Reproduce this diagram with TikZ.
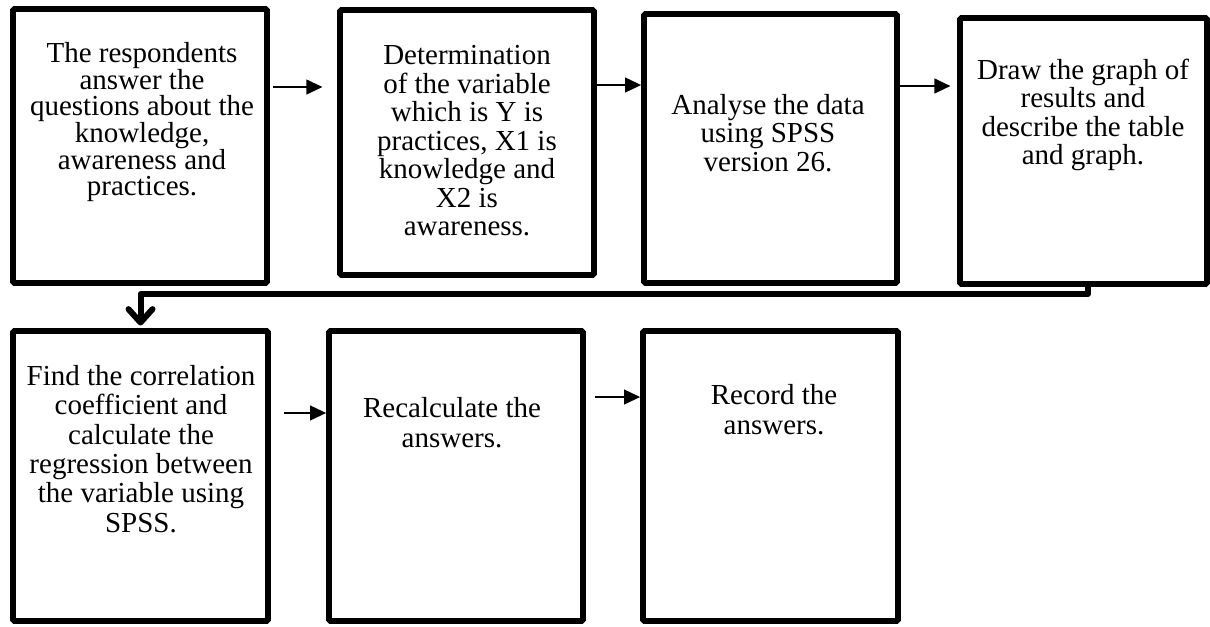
\documentclass[tikz,border=0pt]{standalone}
\usepackage{fontspec}
\setmainfont{Liberation Serif}
\usetikzlibrary{arrows.meta,calc}

\begin{document}
\begin{tikzpicture}[x=0.75pt,y=-0.75pt,
  stepbox/.style={draw=black, line width=4.3pt, rounded corners=1pt, rectangle, inner sep=0pt, fill=white},
  steptext/.style={align=center, inner sep=0pt, anchor=north,
    font=\fontsize{21.75pt}{#1}\selectfont},
  thinarrow/.style={line width=1.5pt, -{Triangle[length=12pt,width=11pt]}},
  loopline/.style={line width=4.5pt, line join=round,
    -{Straight Barb[length=10pt,width=18pt,round]}}
]
\useasboundingbox (0,0) rectangle (1210,626);

% upper row
\node[stepbox, minimum width=190.5pt, minimum height=205.5pt] (b1) at (140,146) {};
\node[stepbox, minimum width=190.5pt, minimum height=198.75pt] (b2) at (467,142.5) {};
\node[stepbox, minimum width=189.75pt, minimum height=201.75pt] (b3) at (770.5,148.5) {};
\node[stepbox, minimum width=185.25pt, minimum height=199.5pt] (b4) at (1083.5,151) {};

% lower row
\node[stepbox, minimum width=191.25pt, minimum height=217.5pt] (b5) at (140.5,476) {};
\node[stepbox, minimum width=190.5pt, minimum height=217.5pt] (b6) at (456,476) {};
\node[stepbox, minimum width=191.25pt, minimum height=217.5pt] (b7) at (770.5,476) {};

% box texts
\node[steptext=20pt] (t1) at (142,42) {The respondents\\answer the\\questions about the\\knowledge,\\awareness and\\practices.};
\node[steptext=21.4pt] (t2) at (467,45) {Determination\\of the variable\\which is Y is\\practices, X1 is\\knowledge and\\X2 is\\awareness.};
\node[steptext=21.4pt] (t3) at (768,94) {Analyse the data\\using SPSS\\version 26.};
\node[steptext=21.2pt] (t4) at (1083,59) {Draw the graph of\\results and\\describe the table\\and graph.};
\node[steptext=22pt] (t5) at (141,365) {Find the correlation\\coefficient and\\calculate the\\regression between\\the variable using\\SPSS.};
\node[steptext=22.5pt] (t6) at (452,397) {Recalculate the\\answers.};
\node[steptext=22.5pt] (t7) at (774,384) {Record the\\answers.};

% arrows between neighbouring steps
\draw[thinarrow, shorten <=2pt, shorten >=11pt] (b1.east |- 0,87) -- (b2.west |- 0,87);
\draw[thinarrow] (b2.east |- 0,85) -- (b3.west |- 0,85);
\draw[thinarrow, shorten >=5pt] (b3.east |- 0,86) -- (b4.west |- 0,86);
\draw[thinarrow, shorten <=10pt] (b5.east |- 0,413) -- (b6.west |- 0,413);
\draw[thinarrow, shorten <=7pt] (b6.east |- 0,397) -- (b7.west |- 0,397);

% return line from the last upper step to the first lower step
\coordinate (turnR) at (1088,294);
\coordinate (turnL) at (140.5,294);
\draw[loopline, shorten >=2pt] (b4.south -| turnR) -- (turnR) -- (turnL) -- (b5.north);
\end{tikzpicture}
\end{document}
